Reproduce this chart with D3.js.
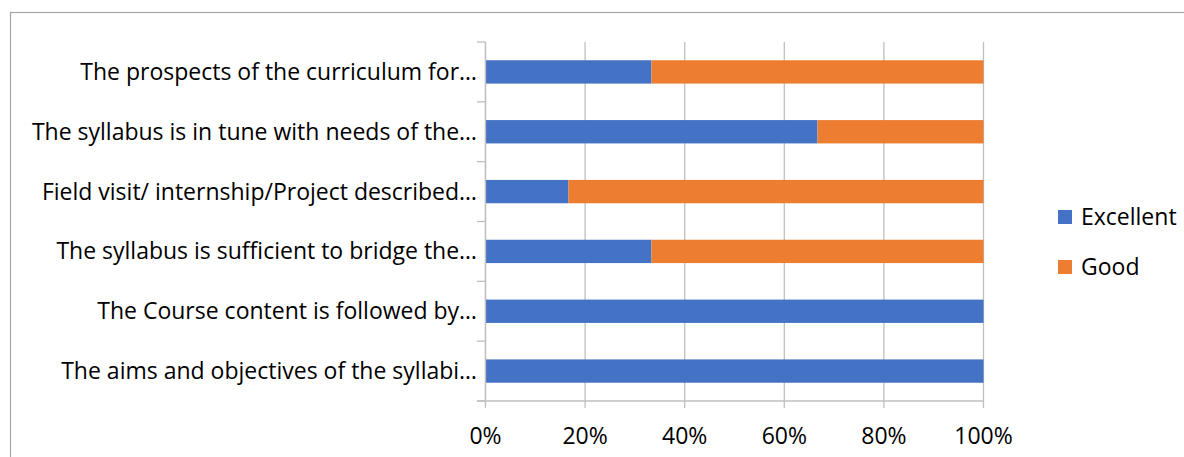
<!DOCTYPE html>
<html><head><meta charset="utf-8">
<script src="https://cdn.jsdelivr.net/npm/d3@7"></script>
<style>body{margin:0;background:#fff}svg{display:block}text{font-family:"Open Sans",Lato,sans-serif;fill:#000}</style>
</head><body><svg id="c" width="1184" height="457"></svg>
<script>
const categories = [
  "The prospects of the curriculum for…",
  "The syllabus is in tune with needs of the…",
  "Field visit/ internship/Project described…",
  "The syllabus is sufficient to bridge the…",
  "The Course content is followed by…",
  "The aims and objectives of the syllabi…"
];
const seriesNames = ["Excellent", "Good"];
const excellent = [33.33, 66.67, 16.67, 33.33, 100, 100];
const good = [66.67, 33.33, 83.33, 66.67, 0, 0];
const tickValues = [0, 20, 40, 60, 80, 100];
const colors = ["#4472C4", "#ED7D31"];

const svg = d3.select("#c");
svg.append("rect").attr("x", 10.5).attr("y", 12.5).attr("width", 1200).attr("height", 500)
  .attr("fill", "none").attr("stroke", "#a6a6a6").attr("stroke-width", 1.2);

const x = d3.scaleLinear().domain([0, 100]).range([485.5, 983.5]);
const y = d3.scaleBand().domain(categories).range([42, 401]).paddingInner(0.61).paddingOuter(0.305);
const yOuter = d3.scaleBand().domain(categories).range([42, 401]);

// gridlines
svg.append("g").selectAll("line").data(tickValues).join("line")
  .attr("x1", d => x(d)).attr("x2", d => x(d)).attr("y1", 42).attr("y2", 408)
  .attr("stroke", "#bfbfbf").attr("stroke-width", 1.3);

// stacked bars
const rows = categories.map((c, i) => ({c, e: excellent[i], g: good[i]}));
const stack = d3.stack().keys(["e", "g"])(rows);
svg.append("g").selectAll("g").data(stack).join("g").attr("fill", (d, i) => colors[i])
  .selectAll("rect").data(d => d).join("rect")
  .attr("x", d => x(d[0])).attr("width", d => x(d[1]) - x(d[0]))
  .attr("y", d => y(d.data.c)).attr("height", y.bandwidth());

// left axis line and ticks
svg.append("line").attr("x1", 485.5).attr("x2", 485.5).attr("y1", 42).attr("y2", 401)
  .attr("stroke", "#bfbfbf").attr("stroke-width", 1.3);
const bounds = categories.map(c => yOuter(c)).concat([401]);
svg.append("g").selectAll("line").data(bounds).join("line")
  .attr("x1", 477).attr("x2", 485.5).attr("y1", d => d).attr("y2", d => d)
  .attr("stroke", "#bfbfbf").attr("stroke-width", 1.3);
svg.append("line").attr("x1", 477).attr("x2", 983.5).attr("y1", 401).attr("y2", 401)
  .attr("stroke", "#bfbfbf").attr("stroke-width", 1.3);

// category labels
svg.append("g").selectAll("text").data(categories).join("text")
  .attr("x", 477).attr("y", d => yOuter(d) + yOuter.bandwidth() / 2 + 8)
  .attr("text-anchor", "end").attr("font-size", 23).text(d => d);

// x tick labels
svg.append("g").selectAll("text").data(tickValues).join("text")
  .attr("x", d => x(d)).attr("y", 444).attr("text-anchor", "middle").attr("font-size", 23)
  .text(d => d + "%");

// legend
const lg = svg.append("g").selectAll("g").data(seriesNames).join("g")
  .attr("transform", (d, i) => `translate(1058,${210 + i * 50})`);
lg.append("rect").attr("width", 14).attr("height", 14).attr("fill", (d, i) => colors[i]);
lg.append("text").attr("x", 23).attr("y", 15).attr("font-size", 23).text(d => d);
</script></body></html>
